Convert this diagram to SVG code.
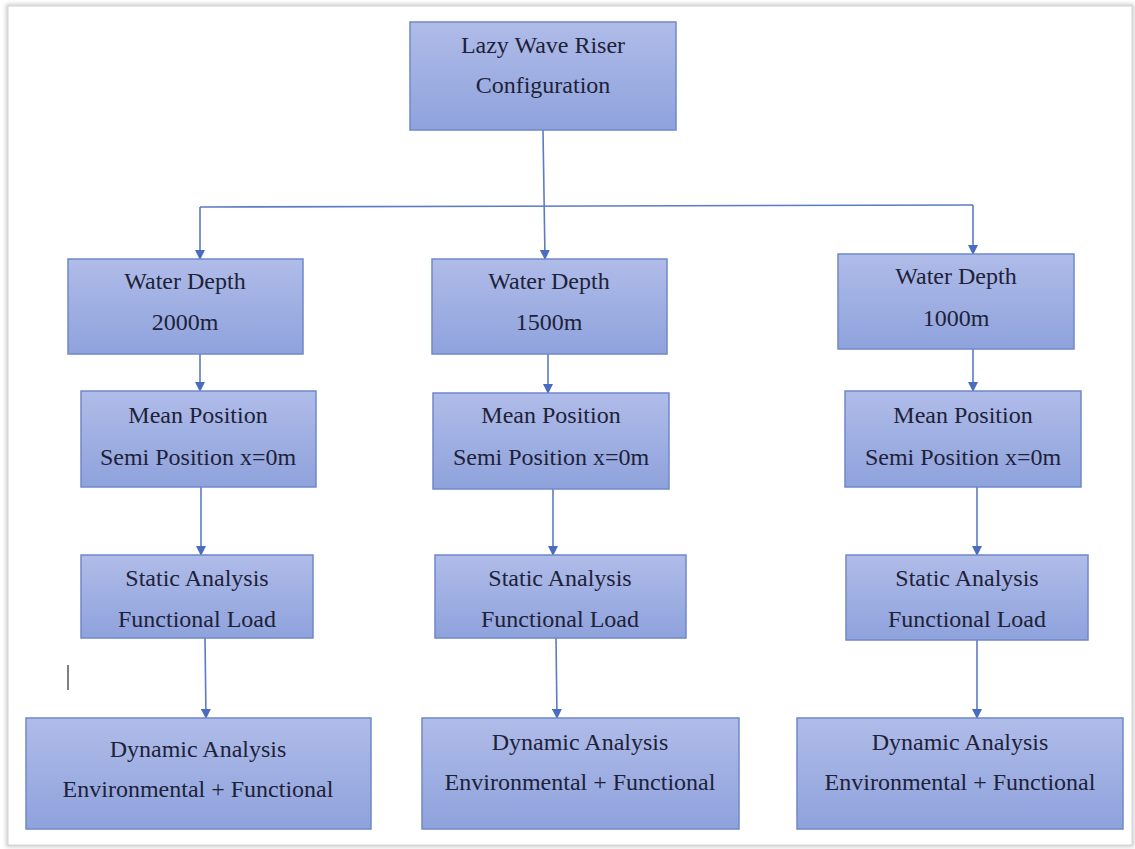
<svg xmlns="http://www.w3.org/2000/svg" width="1135" height="849" viewBox="0 0 1135 849">
<defs>
<linearGradient id="g" x1="0" y1="0" x2="0" y2="1">
<stop offset="0" stop-color="#b0bce9"/>
<stop offset="1" stop-color="#8ea2dc"/>
</linearGradient>
<marker id="ah" viewBox="0 0 10 10" refX="9" refY="5" markerWidth="10" markerHeight="10" markerUnits="userSpaceOnUse" orient="auto">
<path d="M0,0 L10,5 L0,10 Z" fill="#4a6cc0"/>
</marker>
<filter id="sh" x="-5%" y="-5%" width="110%" height="110%">
<feGaussianBlur stdDeviation="2"/>
</filter>
</defs>
<style>
.box{fill:url(#g);stroke:#7088c8;stroke-width:1.5}
.t{font-family:"Liberation Serif","Times New Roman",serif;font-size:24px;fill:#1e2238;text-anchor:middle}
.c{fill:none;stroke:#5b7bc4;stroke-width:1.6;marker-end:url(#ah)}
.l{fill:none;stroke:#5b7bc4;stroke-width:1.6}
</style>
<rect width="1135" height="849" fill="#ffffff"/>
<rect x="8" y="6" width="1124" height="839" fill="none" stroke="#b8b8b8" stroke-width="3" filter="url(#sh)"/>
<rect x="8" y="6" width="1124" height="839" fill="#ffffff" stroke="#d4d4d4" stroke-width="1"/>
<line x1="68" y1="665" x2="68" y2="690" stroke="#555" stroke-width="1.5"/>

<g id="connectors">
<path class="c" d="M543,130 L545,259"/>
<path class="l" d="M200,207 L973,205"/>
<path class="c" d="M200,207 L200,259"/>
<path class="c" d="M973,205 L973,254"/>
<path class="c" d="M200,354 L200,391"/>
<path class="c" d="M548,354 L548,393"/>
<path class="c" d="M973,349 L973,391"/>
<path class="c" d="M201,487 L201,555"/>
<path class="c" d="M553,489 L553,555"/>
<path class="c" d="M977,487 L977,555"/>
<path class="c" d="M205,638 L206,718"/>
<path class="c" d="M556,638 L557,718"/>
<path class="c" d="M977,640 L977,718"/>
</g>

<g id="top">
<rect class="box" x="410" y="22" width="266" height="108"/>
<text class="t" x="543" y="53">Lazy Wave Riser</text>
<text class="t" x="543" y="93">Configuration</text>
</g>

<g id="wd2000">
<rect class="box" x="68" y="259" width="235" height="95"/>
<text class="t" x="185" y="289">Water Depth</text>
<text class="t" x="185" y="330">2000m</text>
</g>
<g id="wd1500">
<rect class="box" x="432" y="259" width="235" height="95"/>
<text class="t" x="549" y="289">Water Depth</text>
<text class="t" x="549" y="330">1500m</text>
</g>
<g id="wd1000">
<rect class="box" x="838" y="254" width="236" height="95"/>
<text class="t" x="956" y="284">Water Depth</text>
<text class="t" x="956" y="326">1000m</text>
</g>

<g id="mp1">
<rect class="box" x="81" y="391" width="235" height="96"/>
<text class="t" x="198" y="423">Mean Position</text>
<text class="t" x="198" y="465">Semi Position x=0m</text>
</g>
<g id="mp2">
<rect class="box" x="433" y="393" width="236" height="96"/>
<text class="t" x="551" y="423">Mean Position</text>
<text class="t" x="551" y="465">Semi Position x=0m</text>
</g>
<g id="mp3">
<rect class="box" x="845" y="391" width="236" height="96"/>
<text class="t" x="963" y="423">Mean Position</text>
<text class="t" x="963" y="465">Semi Position x=0m</text>
</g>

<g id="sa1">
<rect class="box" x="81" y="555" width="232" height="83"/>
<text class="t" x="197" y="586">Static Analysis</text>
<text class="t" x="197" y="627">Functional Load</text>
</g>
<g id="sa2">
<rect class="box" x="435" y="555" width="251" height="83"/>
<text class="t" x="560" y="586">Static Analysis</text>
<text class="t" x="560" y="627">Functional Load</text>
</g>
<g id="sa3">
<rect class="box" x="846" y="555" width="242" height="85"/>
<text class="t" x="967" y="586">Static Analysis</text>
<text class="t" x="967" y="627">Functional Load</text>
</g>

<g id="da1">
<rect class="box" x="26" y="718" width="345" height="111"/>
<text class="t" x="198" y="757">Dynamic Analysis</text>
<text class="t" x="198" y="797">Environmental + Functional</text>
</g>
<g id="da2">
<rect class="box" x="422" y="718" width="317" height="111"/>
<text class="t" x="580" y="750">Dynamic Analysis</text>
<text class="t" x="580" y="790">Environmental + Functional</text>
</g>
<g id="da3">
<rect class="box" x="797" y="718" width="326" height="111"/>
<text class="t" x="960" y="750">Dynamic Analysis</text>
<text class="t" x="960" y="790">Environmental + Functional</text>
</g>
</svg>
